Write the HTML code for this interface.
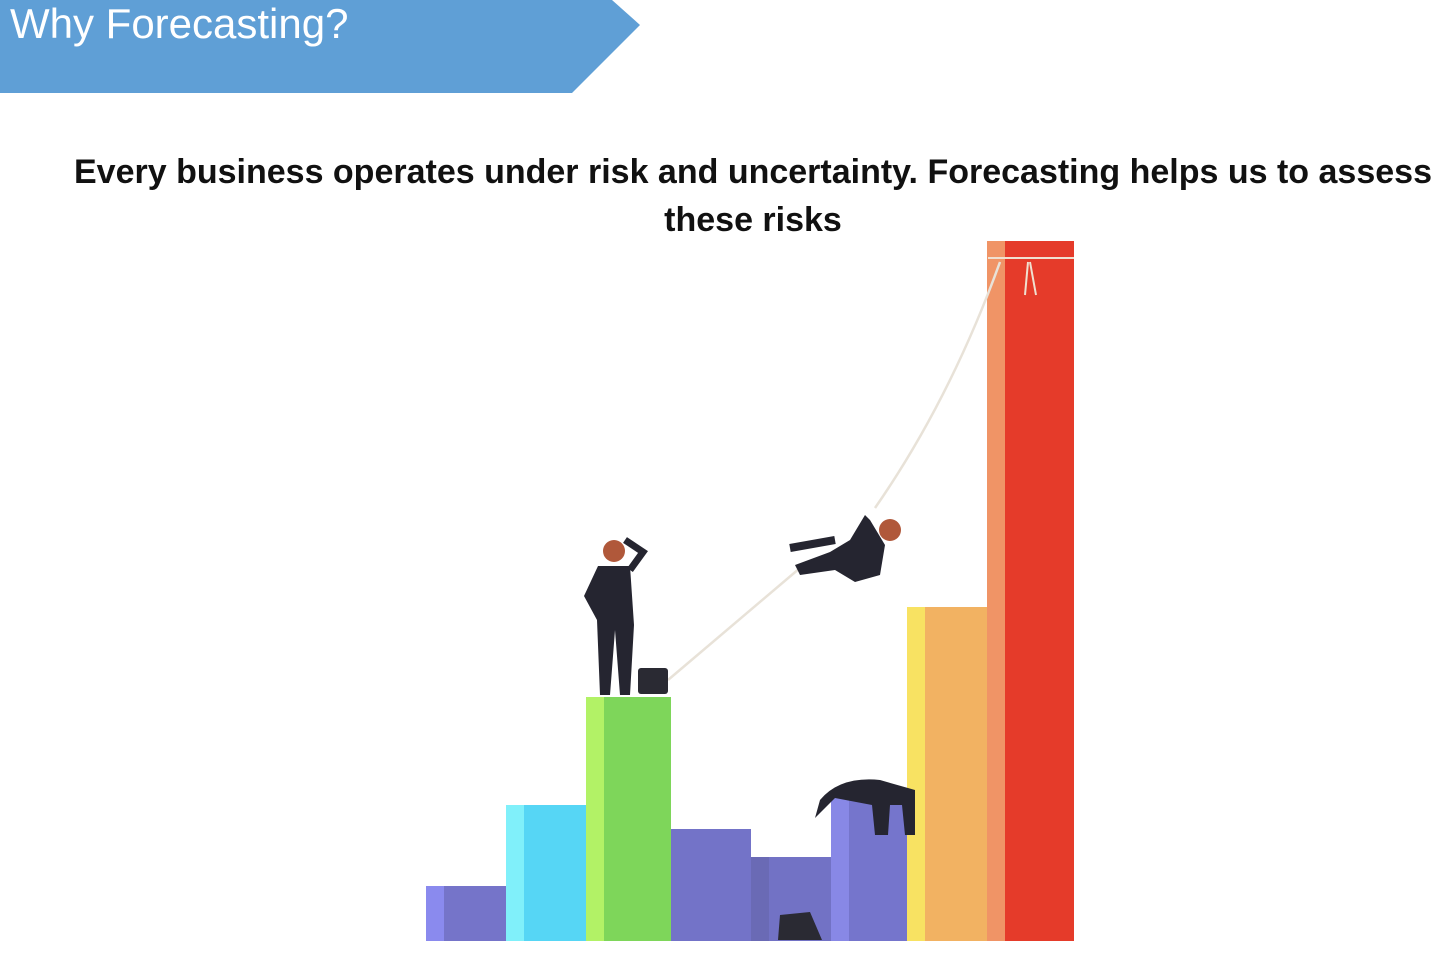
<!DOCTYPE html>
<html><head><meta charset="utf-8"><style>
html,body{margin:0;padding:0;background:#fff;width:1434px;height:967px;overflow:hidden;font-family:"Liberation Sans",sans-serif}
svg{position:absolute;left:0;top:0}
.sub{position:absolute;left:72px;width:1362px;text-align:center;font-weight:bold;font-size:34px;line-height:48px;top:148px;color:#111;white-space:nowrap}
</style></head><body>
<svg width="1434" height="967">
<polygon points="0,0 612,0 640,25 572,93 0,93" fill="#5f9fd6"/>
<text x="10" y="38" font-size="42" fill="#fff" font-family="Liberation Sans, sans-serif">Why Forecasting?</text>
<g id="bars"></g>
<path d="M668,680 L800,568" stroke="#e8e2d8" stroke-width="2.5" fill="none"/>
<path d="M875,508 Q950,400 1000,262" stroke="#e8e2d8" stroke-width="2.5" fill="none"/>
<path d="M988,258 L1074,258 M1028,262 L1025,295 M1030,262 L1036,295" stroke="#f0e0d0" stroke-width="2"/>
<g>
<circle cx="614" cy="551" r="11" fill="#b0583a"/>
<path d="M598,566 L630,566 L634,625 L630,695 L620,695 L615,630 L610,695 L600,695 L597,620 L584,596 Z" fill="#252530"/>
<path d="M625,540 L643,552 L630,570" stroke="#252530" stroke-width="7" fill="none"/>
<rect x="638" y="668" width="30" height="26" rx="3" fill="#2a2a33"/>
</g>
<g>
<circle cx="890" cy="530" r="11" fill="#b0583a"/>
<path d="M870,520 L885,545 L880,575 L855,582 L835,570 L800,575 L795,565 L830,552 L850,540 L865,515 Z" fill="#252530"/>
<path d="M790,548 L835,540" stroke="#252530" stroke-width="8"/>
</g>
<path d="M820,800 Q840,776 880,780 L915,790 L915,835 L905,835 L902,805 L890,805 L888,835 L875,835 L872,805 L835,798 L815,818 Z" fill="#252530"/>
<path d="M780,915 L810,912 L822,940 L778,940 Z" fill="#2a2a33"/>
</svg>
<div class="sub">Every business operates under risk and uncertainty. Forecasting helps us to assess<br>these risks</div>
<script>
const barLabels=["b1","b2","b3","b4","b5","b6","b7","b8"];
const barValues=[55,136,244,112,84,151,334,700];
const barX=[426,506,586,671,751,831,907,987];
const barW=[86,85,85,80,80,85,86,87];
const mainCol=["#7574c9","#56d6f5","#7ed65a","#7373c8","#7272c5","#7575cc","#f2b262","#e53b2a"];
const lightCol=["#8a8aee","#80f0fa","#b2f266","#7373c8","#6a6ab5","#8888e6","#f8e262","#f09466"];
const base=941;
function y(v){return base-v;}
const g=document.getElementById('bars');
const ns="http://www.w3.org/2000/svg";
for(let i=0;i<barValues.length;i++){
  const r=document.createElementNS(ns,'rect');
  r.setAttribute('x',barX[i]);r.setAttribute('y',y(barValues[i]));
  r.setAttribute('width',barW[i]);r.setAttribute('height',barValues[i]);
  r.setAttribute('fill',mainCol[i]);
  
  
  g.appendChild(r);
  const s=document.createElementNS(ns,'rect');
  s.setAttribute('x',barX[i]);s.setAttribute('y',y(barValues[i]));
  s.setAttribute('width',18);s.setAttribute('height',barValues[i]);
  s.setAttribute('fill',lightCol[i]);
  
  
  g.appendChild(s);
}
</script>
</body></html>
